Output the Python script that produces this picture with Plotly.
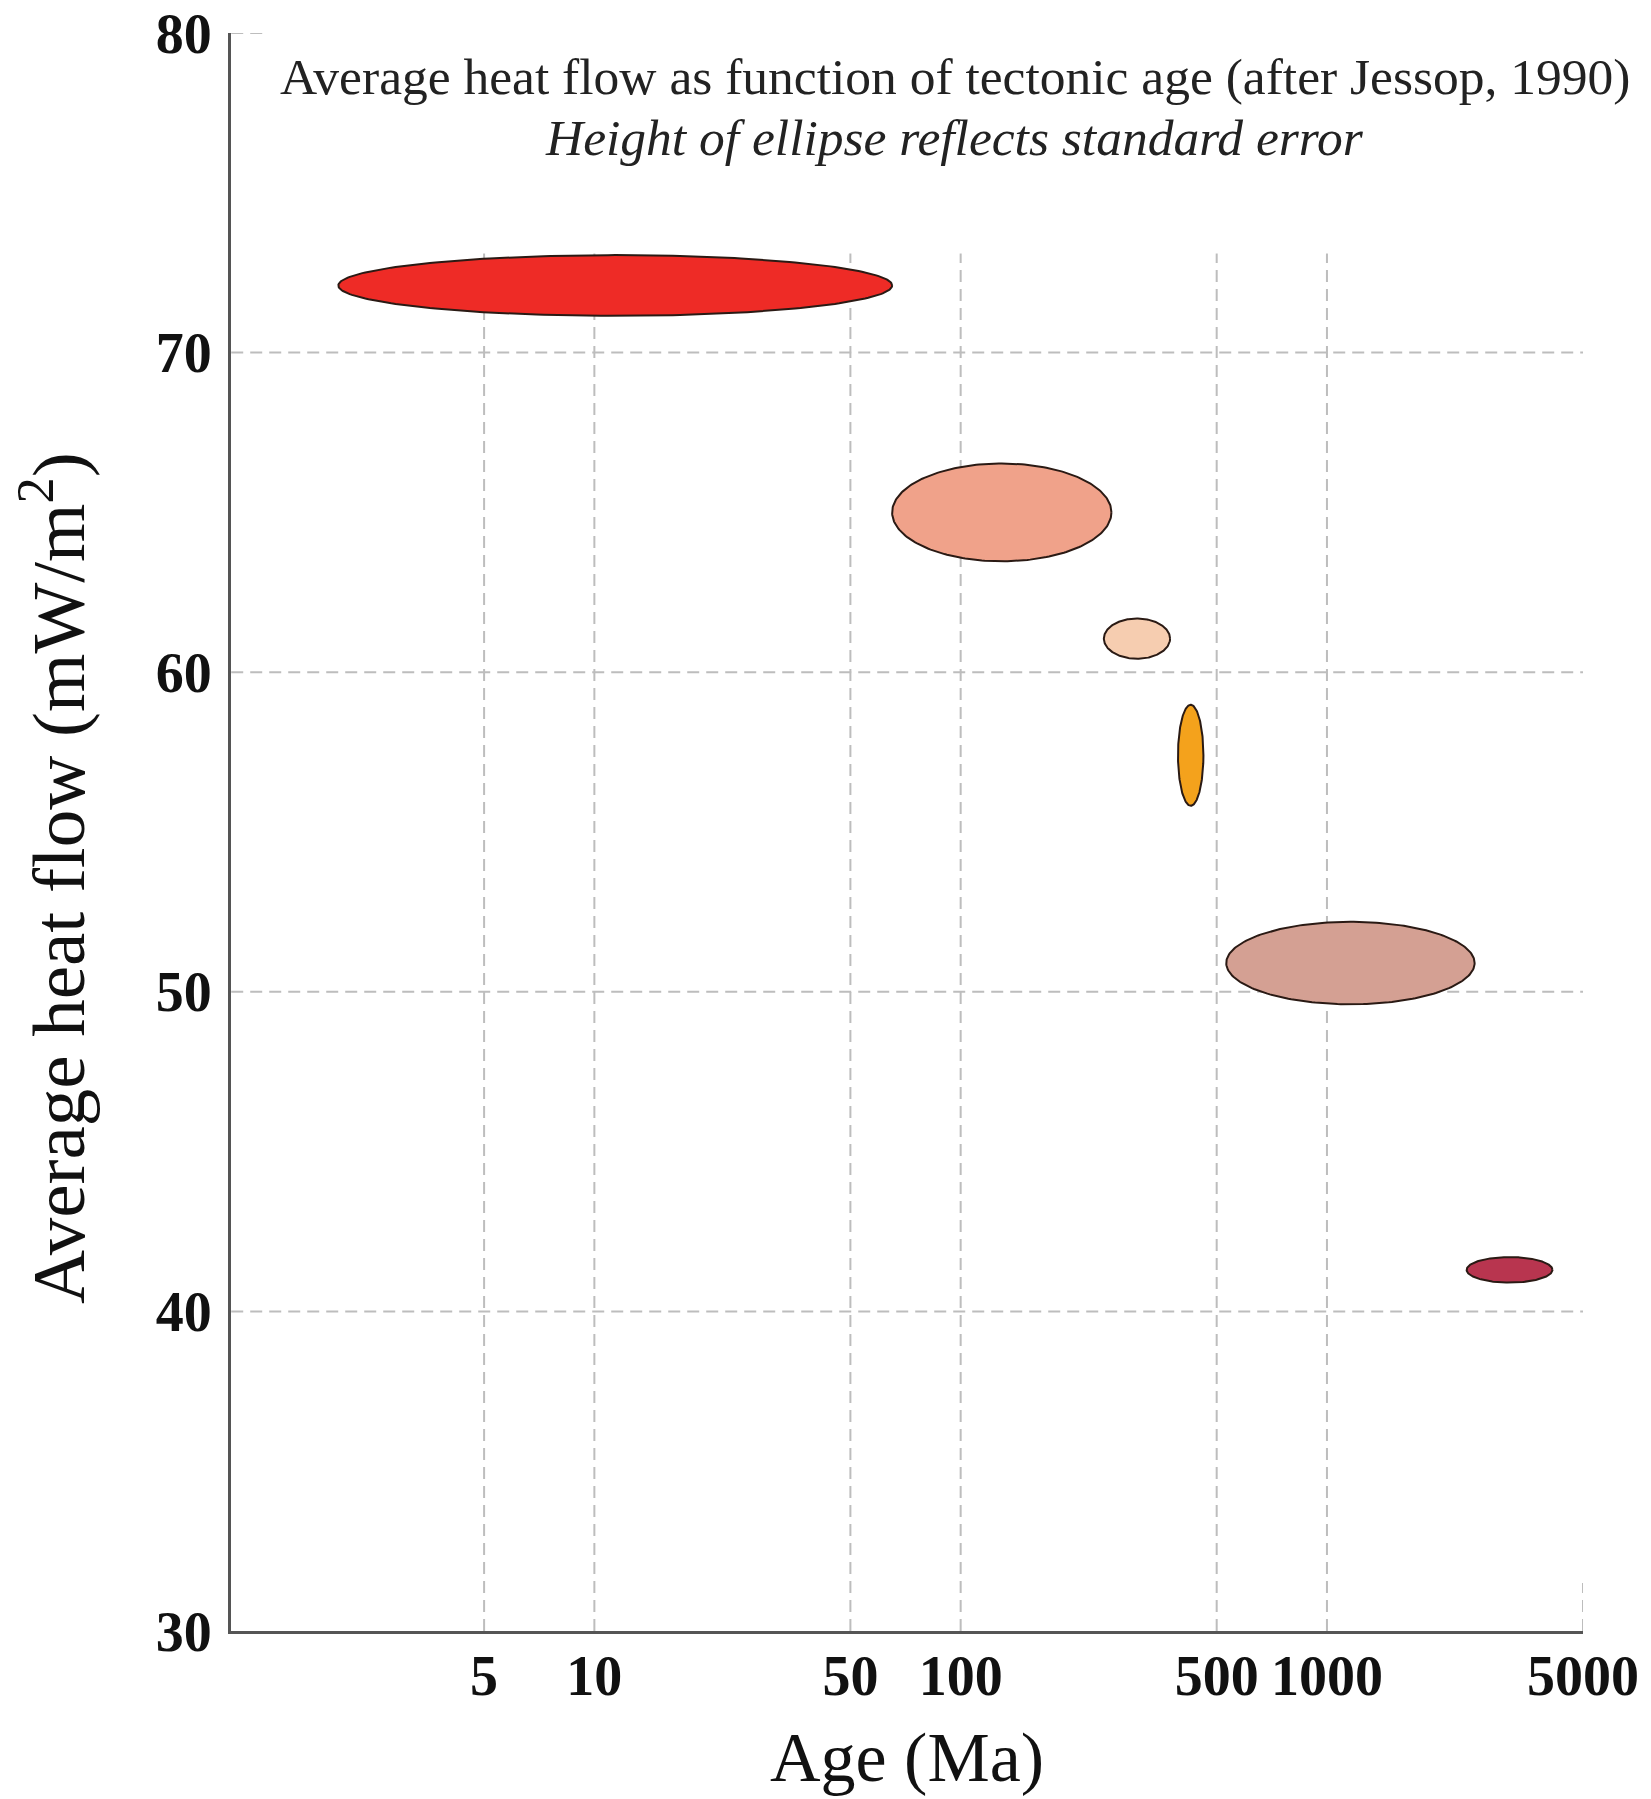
import numpy as np
import plotly.graph_objects as go

# ---- data ----
age_min = [2.0, 65.0, 246.0, 392.0, 531.0, 2406.0]      # Ma, left end of ellipse
age_max = [65.0, 258.0, 373.0, 460.0, 2530.0, 4127.0]   # Ma, right end of ellipse
heat_flow = [72.1, 65.0, 61.05, 57.4, 50.9, 41.3]       # mW/m2 (centre)
std_err = [0.95, 1.53, 0.63, 1.58, 1.29, 0.40]          # half height of ellipse
fill_colors = ["#ee2b26", "#f0a28a", "#f6cdb0", "#f4a21c", "#d4a093", "#b8354f"]

x_ticks = [5, 10, 50, 100, 500, 1000, 5000]
x_ticktext = ["5", "10", "50", "100", "500", "1000", "5000"]
y_ticks = [30, 40, 50, 60, 70, 80]

title1 = "Average heat flow as function of tectonic age (after Jessop, 1990)"
title2 = "<i>Height of ellipse reflects standard error</i>"
xlabel = "Age (Ma)"
ylabel = "Average heat flow (mW/m<sup>2</sup>)"

FONT = "Liberation Serif"
GRID = "#bdbdbd"

fig = go.Figure()

# ---- dashed grid (drawn as line traces) ----
def gridline(xs, ys):
    fig.add_trace(go.Scatter(x=xs, y=ys, mode="lines",
                             line=dict(color=GRID, width=2, dash="12px,7px"),
                             hoverinfo="skip", showlegend=False))

for yv in [40, 50, 60, 70]:
    gridline([1.02, 5000], [yv, yv])
gridline([1.02, 1.27], [80, 80])            # short stub at the top
for xv in [5, 10, 50, 100, 500, 1000]:
    gridline([xv, xv], [30, 73.1])
gridline([5000, 5000], [30, 31.5])          # short stub at right

# ---- ellipses ----
t = np.linspace(0, 2 * np.pi, 241)
for a0, a1, hf, se, col in zip(age_min, age_max, heat_flow, std_err, fill_colors):
    lc = (np.log10(a0) + np.log10(a1)) / 2
    lh = (np.log10(a1) - np.log10(a0)) / 2
    xs = 10 ** (lc + lh * np.cos(t))
    ys = hf + se * np.sin(t)
    fig.add_trace(go.Scatter(x=xs, y=ys, mode="lines", fill="toself",
                             fillcolor=col, line=dict(color="#2a1a14", width=2),
                             hoverinfo="skip", showlegend=False))

# ---- titles ----
fig.add_annotation(text=title1, xref="paper", yref="paper", x=0.5355, y=0.9725,
                   showarrow=False, xanchor="center", yanchor="middle",
                   font=dict(family=FONT, size=51.5, color="#222"))
fig.add_annotation(text=title2, xref="paper", yref="paper", x=0.5355, y=0.9343,
                   showarrow=False, xanchor="center", yanchor="middle",
                   font=dict(family=FONT, size=51.5, color="#222"))
fig.add_annotation(text=ylabel, xref="paper", yref="paper", x=-0.1317, y=0.4712,
                   showarrow=False, xanchor="center", yanchor="middle", textangle=-90,
                   font=dict(family=FONT, size=75, color="#111"))

fig.update_layout(
    width=1651, height=1799,
    margin=dict(l=231, r=68, t=33, b=168, autoexpand=False),
    plot_bgcolor="white", paper_bgcolor="white",
    showlegend=False,
    xaxis=dict(type="log", range=[0.008, 3.699], tickvals=x_ticks, ticktext=x_ticktext,
               showgrid=False, zeroline=False, showline=True, linecolor="#555",
               linewidth=3, ticks="", ticklabelstandoff=-6, automargin=False,
               tickfont=dict(family=FONT, size=56, color="#111", weight="bold"),
               title=dict(text=xlabel, standoff=26,
                          font=dict(family=FONT, size=70, color="#111"))),
    yaxis=dict(range=[30, 80], tickvals=y_ticks, automargin=False,
               showgrid=False, zeroline=False, showline=True, linecolor="#555",
               linewidth=3, ticks="", ticklabelstandoff=5,
               tickfont=dict(family=FONT, size=56, color="#111", weight="bold")),
)

fig.write_html("out.html")
